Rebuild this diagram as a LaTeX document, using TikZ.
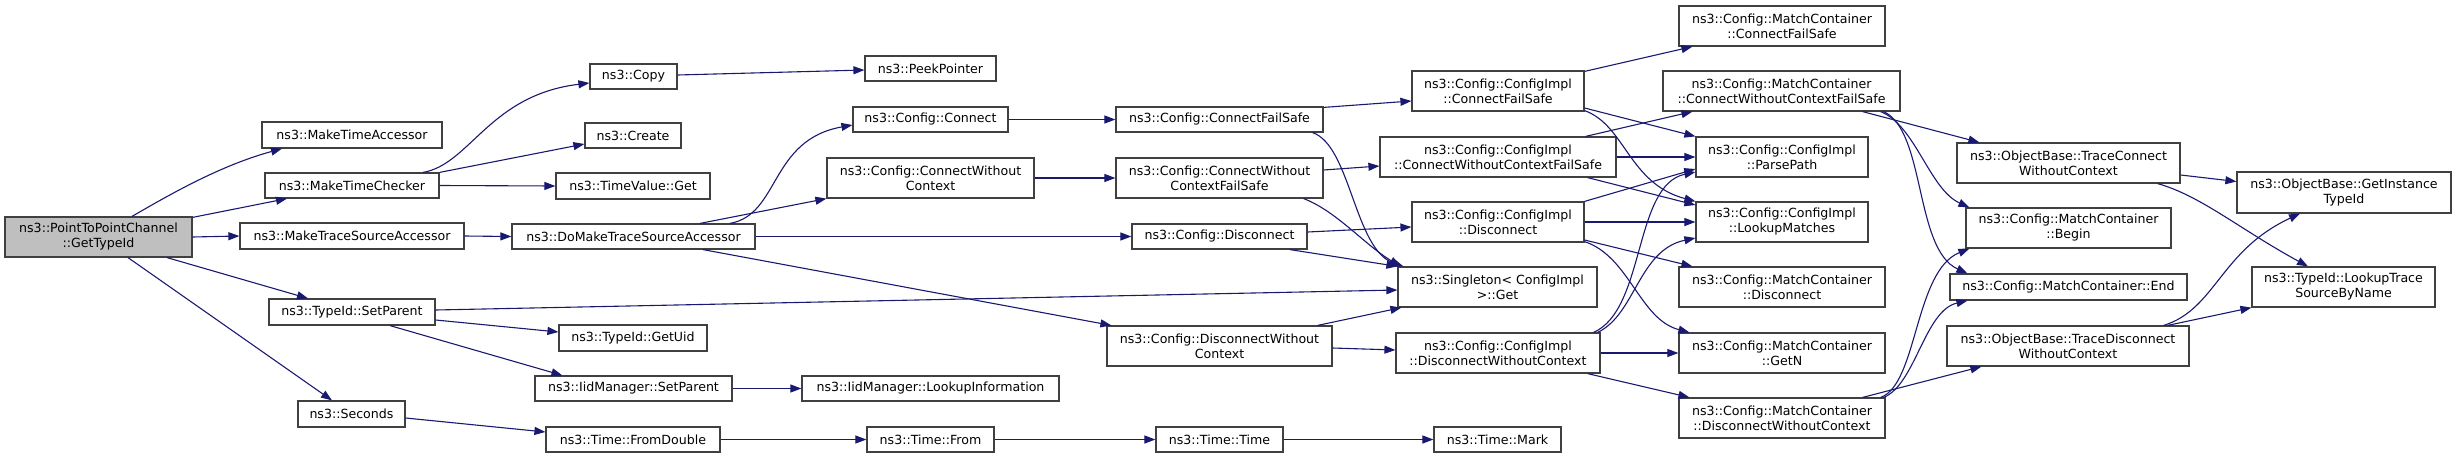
\documentclass[tikz,border=0pt]{standalone}
\usepackage{fontspec}
\setmainfont{DejaVu Sans}
\usetikzlibrary{arrows.meta,calc}
\definecolor{mblue}{HTML}{191970}
\definecolor{bordergrey}{HTML}{404040}
\definecolor{rootgrey}{HTML}{BFBFBF}
\newcommand\mknode[7][]{\node[box,#1,minimum width=#5pt,minimum height=#6pt] (#2) at (#3,#4) {#7};}
\tikzset{
  box/.style={draw=bordergrey, line width=1.2pt, fill=white, inner sep=0pt, align=center, font=\fontsize{12.6pt}{15pt}\selectfont},
  edge/.style={draw=mblue, line width=1.1pt, -{Triangle[length=11pt,width=8pt]}}
}
\begin{document}
\begin{tikzpicture}[x=1pt,y=-1pt]
\useasboundingbox (0,0) rectangle (2456,458);
% nodes
\mknode[fill=rootgrey]{root}{98.5}{237}{187}{40}{ns3::PointToPointChannel\\::GetTypeId}
\mknode{mta}{352}{135}{180}{26}{ns3::MakeTimeAccessor}
\mknode{mtc}{352}{185.5}{174}{25}{ns3::MakeTimeChecker}
\mknode{mtsa}{352}{236}{224}{26}{ns3::MakeTraceSourceAccessor}
\mknode{tsp}{352}{312}{166}{26}{ns3::TypeId::SetParent}
\mknode{sec}{351.5}{414}{107}{26}{ns3::Seconds}
\mknode{copy}{633.5}{76.5}{87}{25}{ns3::Copy}
\mknode{create}{633}{135.5}{96}{25}{ns3::Create}
\mknode{tvg}{633}{186}{154}{26}{ns3::TimeValue::Get}
\mknode{dmtsa}{633.5}{236.5}{243}{25}{ns3::DoMakeTraceSourceAccessor}
\mknode{gu}{633}{338}{148}{26}{ns3::TypeId::GetUid}
\mknode{ims}{633.5}{388.5}{197}{25}{ns3::IidManager::SetParent}
\mknode{fd}{633}{439.5}{174}{25}{ns3::Time::FromDouble}
\mknode{peek}{930.5}{68.5}{131}{25}{ns3::PeekPointer}
\mknode{cc}{930.5}{119.5}{155}{25}{ns3::Config::Connect}
\mknode{cwc}{930.5}{178}{207}{40}{ns3::Config::ConnectWithout\\Context}
\mknode{li}{930.5}{388.5}{257}{25}{ns3::IidManager::LookupInformation}
\mknode{tf}{930.5}{439.5}{127}{25}{ns3::Time::From}
\mknode{ccfs}{1219.5}{119.5}{207}{25}{ns3::Config::ConnectFailSafe}
\mknode{cwcfs}{1219.5}{178}{207}{40}{ns3::Config::ConnectWithout\\ContextFailSafe}
\mknode{cd}{1219.5}{236.5}{175}{25}{ns3::Config::Disconnect}
\mknode{cdwc}{1219.5}{346}{225}{40}{ns3::Config::DisconnectWithout\\Context}
\mknode{tt}{1219.5}{439.5}{127}{25}{ns3::Time::Time}
\mknode{cicfs}{1498}{91}{172}{40}{ns3::Config::ConfigImpl\\::ConnectFailSafe}
\mknode{cicwcfs}{1498}{157}{236}{40}{ns3::Config::ConfigImpl\\::ConnectWithoutContextFailSafe}
\mknode{cid}{1498}{222}{172}{40}{ns3::Config::ConfigImpl\\::Disconnect}
\mknode{sg}{1497.5}{287}{199}{40}{ns3::Singleton< ConfigImpl\\>::Get}
\mknode{cidwc}{1498}{353}{204}{40}{ns3::Config::ConfigImpl\\::DisconnectWithoutContext}
\mknode{tm}{1497.5}{439.5}{127}{25}{ns3::Time::Mark}
\mknode{mccfs}{1782}{26}{206}{40}{ns3::Config::MatchContainer\\::ConnectFailSafe}
\mknode{mccwcfs}{1781.5}{91}{237}{40}{ns3::Config::MatchContainer\\::ConnectWithoutContextFailSafe}
\mknode{pp}{1782}{157}{172}{40}{ns3::Config::ConfigImpl\\::ParsePath}
\mknode{lm}{1782}{222}{172}{40}{ns3::Config::ConfigImpl\\::LookupMatches}
\mknode{mcd}{1782}{287}{206}{40}{ns3::Config::MatchContainer\\::Disconnect}
\mknode{mcg}{1782}{353}{206}{40}{ns3::Config::MatchContainer\\::GetN}
\mknode{mcdwc}{1782}{418}{206}{40}{ns3::Config::MatchContainer\\::DisconnectWithoutContext}
\mknode{tcwc}{2068.5}{163}{223}{40}{ns3::ObjectBase::TraceConnect\\WithoutContext}
\mknode{mcb}{2068.5}{228}{205}{40}{ns3::Config::MatchContainer\\::Begin}
\mknode{mce}{2068.5}{287}{237}{26}{ns3::Config::MatchContainer::End}
\mknode{tdwc}{2068}{346}{242}{40}{ns3::ObjectBase::TraceDisconnect\\WithoutContext}
\mknode{git}{2344}{192.5}{214}{41}{ns3::ObjectBase::GetInstance\\TypeId}
\mknode{lts}{2343.5}{287}{183}{40}{ns3::TypeId::LookupTrace\\SourceByName}
% edges
\draw[edge] ($(root.north)+(33.5,0)$) .. controls +(38,-22) and +(-62,17) .. ($(mta.south)+(-70,0)$);
\draw[edge] ($(root.north east)+(0,1)$) -- ($(mtc.south)+(-65,0)$);
\draw[edge] (root.east) -- (mtsa.west);
\draw[edge] ($(root.south)+(68.5,0)$) -- ($(tsp.north)+(-44,0)$);
\draw[edge] ($(root.south)+(29.5,0)$) -- ($(sec.north)+(-19.5,0)$);
\draw[edge] ($(mtc.north)+(71,0)$) .. controls +(47,-8) and +(-100,12) .. ($(copy.west)+(0,6.5)$);
\draw[edge] (mtc.north east) -- ($(create.west)+(0,8.5)$);
\draw[edge] (mtc.east) -- (tvg.west);
\draw[edge] ($(copy.east)+(0,-1.5)$) -- ($(peek.west)+(0,1.5)$);
\draw[edge] (mtsa.east) -- (dmtsa.west);
\draw[edge] ($(dmtsa.north)+(96.5,0)$) .. controls +(50,-9) and +(-83,15) .. ($(cc.west)+(0,5.5)$);
\draw[edge] ($(dmtsa.north)+(66.5,0)$) -- (cwc.south west);
\draw[edge] (dmtsa.east) -- (cd.west);
\draw[edge] ($(dmtsa.south)+(69.5,0)$) -- ($(cdwc.north west)+(5,0)$);
\draw[edge] ($(tsp.east)+(0,-2)$) -- ($(sg.west)+(0,3)$);
\draw[edge] ($(tsp.east)+(0,8)$) -- ($(gu.west)+(0,-6)$);
\draw[edge] ($(tsp.south)+(38,0)$) -- ($(ims.north west)+(28,0)$);
\draw[edge] (ims.east) -- (li.west);
\draw[edge] ($(sec.east)+(0,4)$) -- ($(fd.west)+(0,-7.5)$);
\draw[edge] (fd.east) -- (tf.west);
\draw[edge] (tf.east) -- (tt.west);
\draw[edge] (tt.east) -- (tm.west);
\draw[edge] (cc.east) -- (ccfs.west);
\draw[edge] (cwc.east) -- (cwcfs.west);
\draw[edge] ($(ccfs.north east)+(0,1)$) -- ($(cicfs.west)+(0,10)$);
\draw[edge] ($(ccfs.south east)+(-11,0)$) .. controls +(38,13) and +(-49,-17) .. ($(sg.north west)+(6,0)$);
\draw[edge] ($(cwcfs.east)+(0,-8)$) -- ($(cicwcfs.west)+(0,9)$);
\draw[edge] ($(cwcfs.south east)+(-20,0)$) .. controls +(32,12) and +(-36,-22) .. ($(sg.north west)+(3,0)$);
\draw[edge] ($(cd.east)+(0,-4.5)$) -- ($(cid.west)+(0,5)$);
\draw[edge] ($(cd.south)+(70.5,0)$) -- (sg.north west);
\draw[edge] ($(cdwc.north east)+(-15,0)$) -- ($(sg.south west)+(4,0)$);
\draw[edge] ($(cdwc.east)+(0,2)$) -- ($(cidwc.west)+(0,-3)$);
\draw[edge] ($(cicfs.north east)+(0,1)$) -- ($(mccfs.south west)+(14,0)$);
\draw[edge] ($(cicfs.east)+(0,17)$) -- (pp.north west);
\draw[edge] ($(cicfs.south east)+(0,-1)$) .. controls +(41,15) and +(-67,-18) .. (lm.north west);
\draw[edge] ($(cicwcfs.north east)+(-31,0)$) -- ($(mccwcfs.south west)+(30,0)$);
\draw[edge] (cicwcfs.east) -- (pp.west);
\draw[edge] ($(cicwcfs.south east)+(-29,0)$) -- ($(lm.west)+(0,-17)$);
\draw[edge] (cid.north east) -- ($(pp.west)+(0,12)$);
\draw[edge] (cid.east) -- (lm.west);
\draw[edge] ($(cid.east)+(0,18)$) -- ($(mcd.north west)+(14,0)$);
\draw[edge] ($(cid.south east)+(0,-1)$) .. controls +(45,15) and +(-50,-13) .. ($(mcg.north west)+(11,0)$);
\draw[edge] ($(cidwc.north east)+(-7,0)$) .. controls +(52,-23) and +(-62,13) .. ($(pp.west)+(0,15)$);
\draw[edge] ($(cidwc.north east)+(-3,0)$) .. controls +(38,-18) and +(-57,12) .. ($(lm.west)+(0,16)$);
\draw[edge] (cidwc.east) -- (mcg.west);
\draw[edge] ($(cidwc.south east)+(-13,0)$) -- ($(mcdwc.north west)+(11,0)$);
\draw[edge] ($(mccwcfs.south east)+(-38,0)$) -- ($(tcwc.north west)+(23,0)$);
\draw[edge] ($(mccwcfs.south east)+(-20,0)$) .. controls +(35,14) and +(-40,-18) .. ($(mcb.north west)+(4,0)$);
\draw[edge] ($(mccwcfs.south east)+(-17,0)$) .. controls +(42,19) and +(-53,-24) .. ($(mce.north west)+(18,0)$);
\draw[edge] ($(mcdwc.north east)+(-5,0)$) .. controls +(37,-13) and +(-55,22) .. ($(mcb.south west)+(4,0)$);
\draw[edge] ($(mcdwc.north east)+(-2,0)$) .. controls +(32,-13) and +(-43,10) .. ($(mce.south west)+(18,0)$);
\draw[edge] ($(mcdwc.north east)+(-23,0)$) -- ($(tdwc.south west)+(35,0)$);
\draw[edge] ($(tcwc.east)+(0,12)$) -- ($(git.west)+(0,-11)$);
\draw[edge] ($(tcwc.south east)+(-23,0)$) .. controls +(43,12) and +(-68,-37) .. ($(lts.north)+(-35.5,0)$);
\draw[edge] ($(tdwc.north east)+(-26,0)$) .. controls +(52,-16) and +(-80,37) .. ($(git.south)+(-44,0)$);
\draw[edge] ($(tdwc.north east)+(-22,0)$) -- (lts.south west);
\end{tikzpicture}
\end{document}
